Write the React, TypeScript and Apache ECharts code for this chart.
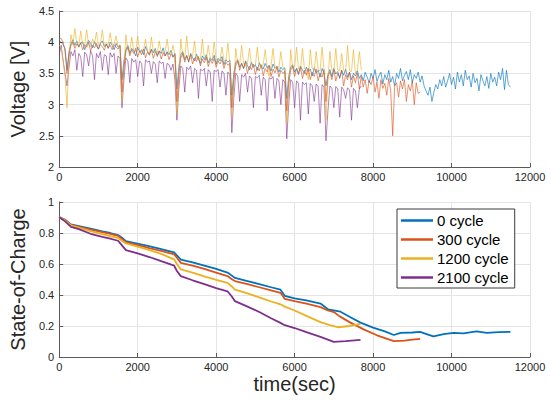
import React, { useEffect, useRef } from "react";
import * as echarts from "echarts";

// ---- data ----
const xTicks = [0, 2000, 4000, 6000, 8000, 10000, 12000];
const seriesNames = ["0 cycle", "300 cycle", "1200 cycle", "2100 cycle"];
const colors = ["#0072BD", "#D95319", "#EDB120", "#7E2F8E"];

// voltage samples every 50 s
const VSTEP = 50;
const voltage0 = [
  4.02, 4.0, 3.96, 3.9, 3.55, 3.85, 3.98, 4.04, 3.95, 4.02, 3.92, 3.99, 4.0, 3.88, 3.96, 4.03, 3.98, 3.91, 4.01, 3.94, 3.89, 3.99, 4.02, 3.93, 3.97, 3.9, 4.0, 3.95, 3.88, 3.98, 3.92, 3.95,
  3.4, 3.7, 3.88, 3.95, 3.82, 3.9, 3.86, 3.78, 3.92, 3.84, 3.88, 3.8, 3.93, 3.85, 3.79, 3.89, 3.83, 3.9, 3.77, 3.86, 3.82, 3.91, 3.78, 3.85, 3.8, 3.87, 3.76, 3.82,
  3.25, 3.6, 3.8, 3.85, 3.72, 3.79, 3.68, 3.82, 3.75, 3.7, 3.81, 3.73, 3.66, 3.78, 3.72, 3.8, 3.67, 3.75, 3.71, 3.79, 3.65, 3.74, 3.7, 3.77, 3.64, 3.72, 3.68, 3.71,
  3.15, 3.5, 3.68, 3.72, 3.6, 3.66, 3.58, 3.7, 3.62, 3.56, 3.68, 3.6, 3.64, 3.55, 3.67, 3.61, 3.57, 3.66, 3.59, 3.63, 3.54, 3.65, 3.58, 3.62, 3.52, 3.6, 3.56, 3.59,
  3.1, 3.45, 3.6, 3.64, 3.52, 3.58, 3.48, 3.62, 3.55, 3.5, 3.6, 3.53, 3.57, 3.46, 3.59, 3.51, 3.55, 3.44, 3.58, 3.5, 3.3, 3.48, 3.56, 3.45, 3.58, 3.49, 3.53, 3.42, 3.55, 3.47, 3.57, 3.44, 3.52, 3.4, 3.5, 3.46, 3.54, 3.42,
  3.48, 3.38, 3.52, 3.44, 3.35, 3.5, 3.42, 3.56, 3.37, 3.46, 3.52, 3.33, 3.48, 3.4, 3.55, 3.36, 3.45, 3.3, 3.5, 3.42, 3.58, 3.38, 3.47, 3.53, 3.4, 3.56, 3.35, 3.48, 3.42, 3.52, 3.36, 3.46,
  3.3, 3.22, 3.15, 3.28, 3.05, 3.2, 3.32, 3.25, 3.4, 3.3, 3.45, 3.28, 3.38, 3.5, 3.32, 3.44, 3.25, 3.52, 3.36, 3.48, 3.3, 3.55, 3.4, 3.46, 3.28, 3.5, 3.35, 3.42, 3.22, 3.48, 3.38, 3.3, 3.45, 3.26, 3.5, 3.36, 3.44, 3.3, 3.52, 3.4, 3.58, 3.24, 3.55, 3.32, 3.28,
];
const voltage300 = [
  4.05, 4.06, 4.0, 3.85, 3.5, 3.8, 3.95, 4.0, 3.9, 3.97, 3.93, 3.99, 3.88, 3.96, 3.92, 4.0, 3.86, 3.95, 3.91, 3.98, 3.89, 3.96, 3.93, 3.87, 3.97, 3.91, 3.95, 3.88, 3.96, 3.92, 3.89, 3.94,
  3.2, 3.6, 3.85, 3.92, 3.78, 3.88, 3.82, 3.9, 3.76, 3.86, 3.8, 3.89, 3.75, 3.84, 3.81, 3.88, 3.74, 3.85, 3.79, 3.86, 3.73, 3.83, 3.78, 3.84, 3.72, 3.81, 3.77, 3.8,
  3.05, 3.5, 3.75, 3.82, 3.68, 3.78, 3.7, 3.8, 3.65, 3.75, 3.69, 3.77, 3.62, 3.73, 3.67, 3.76, 3.61, 3.72, 3.66, 3.74, 3.6, 3.7, 3.65, 3.72, 3.58, 3.68, 3.63, 3.66,
  2.95, 3.4, 3.62, 3.7, 3.55, 3.66, 3.58, 3.68, 3.5, 3.62, 3.56, 3.65, 3.48, 3.6, 3.54, 3.64, 3.46, 3.58, 3.52, 3.62, 3.45, 3.57, 3.51, 3.6, 3.44, 3.55, 3.5, 3.53,
  2.9, 3.35, 3.55, 3.62, 3.45, 3.58, 3.5, 3.6, 3.42, 3.55, 3.47, 3.58, 3.4, 3.52, 3.45, 3.57, 3.38, 3.5, 3.44, 3.56, 3.05, 3.45, 3.52, 3.4, 3.56, 3.38, 3.5, 3.44, 3.55, 3.3, 3.48, 3.4, 3.52, 3.28, 3.46, 3.35, 3.5, 3.25,
  3.45, 3.28, 3.4, 3.18, 3.38, 3.32, 3.45, 3.2, 3.36, 3.1, 3.4, 3.26, 3.34, 3.15, 3.42, 3.22, 2.5, 3.3, 3.35, 3.12, 3.38, 3.25, 3.4, 3.05, 3.32, 3.22, 3.38, 3.0, 3.35, 3.18, 3.2,
];
const voltage1200 = [
  3.95, 3.92, 3.7, 3.45, 2.95, 3.75, 4.12, 3.96, 4.22, 3.98, 3.94, 4.18, 3.97, 3.95, 4.2, 3.96, 3.93, 4.05, 3.98, 4.16, 3.95, 3.97, 4.2, 3.94, 3.99, 3.96, 4.15, 3.95, 3.97, 4.1, 3.93, 3.96,
  3.05, 3.55, 4.12, 3.88, 3.86, 4.08, 3.87, 3.85, 4.1, 3.86, 3.84, 3.88, 4.05, 3.85, 3.83, 4.08, 3.84, 3.86, 3.82, 4.02, 3.84, 3.83, 3.85, 4.05, 3.82, 3.81, 3.95, 3.8,
  2.85, 3.45, 4.05, 3.76, 3.75, 4.1, 3.77, 3.74, 3.78, 4.02, 3.73, 3.75, 3.72, 4.05, 3.74, 3.72, 3.95, 3.73, 3.71, 4.0, 3.72, 3.7, 3.73, 3.92, 3.7, 3.71, 3.98, 3.69,
  2.8, 3.3, 3.9, 3.66, 3.64, 3.95, 3.65, 3.62, 3.66, 3.9, 3.63, 3.61, 3.64, 3.92, 3.62, 3.6, 3.63, 3.88, 3.6, 3.45, 3.62, 3.9, 3.59, 3.61, 3.58, 3.85, 3.6, 3.58,
  2.7, 3.2, 3.88, 3.58, 3.6, 3.92, 3.57, 3.55, 3.9, 3.58, 3.56, 3.4, 3.88, 3.57, 3.55, 3.85, 3.56, 3.54, 3.92, 3.55, 2.75, 3.4, 3.85, 3.55, 3.53, 3.9, 3.56, 3.54, 3.82, 3.55, 3.52, 3.95, 3.54, 3.53, 3.88, 3.5, 3.55, 3.85, 3.55,
];
const voltage2100 = [
  3.8, 3.95, 3.7, 3.5, 3.3, 3.6, 3.85, 3.78, 3.88, 3.55, 3.82, 3.76, 3.45, 3.84, 3.8, 3.62, 3.86, 3.78, 3.4, 3.82, 3.75, 3.85, 3.55, 3.8, 3.78, 3.48, 3.83, 3.76, 3.82, 3.5, 3.78, 3.74,
  2.95, 3.4, 3.75, 3.7, 3.35, 3.74, 3.68, 3.72, 3.45, 3.7, 3.66, 3.3, 3.72, 3.68, 3.7, 3.5, 3.69, 3.65, 3.35, 3.7, 3.66, 3.68, 3.42, 3.66, 3.64, 3.55, 3.65, 3.4,
  2.75, 3.25, 3.62, 3.58, 3.2, 3.6, 3.56, 3.62, 3.35, 3.58, 3.55, 3.1, 3.57, 3.54, 3.58, 3.3, 3.56, 3.52, 3.05, 3.55, 3.53, 3.56, 3.28, 3.54, 3.5, 3.15, 3.52, 3.48,
  2.55, 3.1, 3.5, 3.46, 3.05, 3.48, 3.44, 3.5, 3.2, 3.46, 3.42, 2.95, 3.45, 3.43, 3.47, 3.15, 3.44, 3.4, 2.9, 3.43, 3.41, 3.45, 3.1, 3.42, 3.38, 3.0, 3.4, 3.36,
  2.45, 3.0, 3.4, 3.36, 2.95, 3.38, 3.34, 2.75, 3.36, 3.32, 3.35, 2.85, 3.34, 3.3, 3.05, 3.33, 3.29, 2.7, 3.32, 3.28, 2.42, 2.9, 3.3, 3.26, 2.95, 3.29, 3.25, 2.8, 3.28, 3.24, 3.1, 3.27, 3.23, 2.75, 3.26, 3.22, 2.95, 3.25, 3.3,
];

// state of charge: times (s) and values
const socTime0 = [0, 150, 300, 500, 800, 1100, 1300, 1500, 1600, 1700, 1900, 2200, 2500, 2700, 2930, 3000, 3100, 3400, 3700, 4000, 4290, 4400, 4480, 4800, 5100, 5400, 5640, 5750, 6000, 6300, 6660, 6850, 7170, 7400, 7680, 8000, 8300, 8530, 8700, 9000, 9200, 9400, 9540, 9800, 10050, 10300, 10640, 10900, 11200, 11500];
const soc0 = [0.902, 0.885, 0.855, 0.845, 0.828, 0.81, 0.8, 0.787, 0.77, 0.748, 0.737, 0.72, 0.703, 0.69, 0.675, 0.655, 0.628, 0.61, 0.59, 0.568, 0.545, 0.525, 0.51, 0.49, 0.47, 0.45, 0.434, 0.395, 0.378, 0.365, 0.345, 0.308, 0.292, 0.26, 0.222, 0.19, 0.165, 0.142, 0.155, 0.158, 0.162, 0.145, 0.133, 0.148, 0.155, 0.152, 0.165, 0.155, 0.16, 0.162];
const socTime300 = [0, 150, 300, 500, 800, 1100, 1300, 1500, 1600, 1700, 2000, 2300, 2600, 2930, 3000, 3100, 3400, 3700, 4000, 4290, 4400, 4480, 4800, 5100, 5400, 5640, 5750, 6000, 6300, 6660, 6850, 7000, 7150, 7400, 7760, 8100, 8530, 8800, 9000, 9200];
const soc300 = [0.902, 0.883, 0.852, 0.84, 0.822, 0.805, 0.795, 0.782, 0.76, 0.74, 0.722, 0.703, 0.685, 0.662, 0.64, 0.607, 0.59, 0.568, 0.545, 0.522, 0.502, 0.49, 0.47, 0.45, 0.43, 0.414, 0.375, 0.36, 0.345, 0.322, 0.3, 0.29, 0.262, 0.225, 0.178, 0.14, 0.102, 0.105, 0.112, 0.117];
const socTime1200 = [0, 150, 300, 500, 800, 1100, 1300, 1500, 1600, 1700, 2000, 2300, 2600, 2930, 3000, 3100, 3400, 3700, 4000, 4290, 4400, 4480, 4800, 5100, 5400, 5640, 5750, 6000, 6300, 6660, 6900, 7100, 7400, 7680];
const soc1200 = [0.902, 0.88, 0.85, 0.835, 0.812, 0.792, 0.78, 0.768, 0.75, 0.733, 0.712, 0.69, 0.665, 0.63, 0.6, 0.565, 0.545, 0.52, 0.498, 0.478, 0.455, 0.435, 0.41, 0.385, 0.358, 0.34, 0.325, 0.3, 0.265, 0.225, 0.205, 0.192, 0.2, 0.213];
const socTime2100 = [0, 150, 300, 500, 800, 1100, 1300, 1500, 1600, 1700, 2000, 2300, 2600, 2930, 3000, 3100, 3400, 3700, 4000, 4290, 4400, 4480, 4800, 5100, 5400, 5640, 5750, 6000, 6300, 6660, 7000, 7300, 7680];
const soc2100 = [0.902, 0.875, 0.84, 0.825, 0.795, 0.775, 0.763, 0.75, 0.72, 0.69, 0.668, 0.645, 0.618, 0.59, 0.555, 0.522, 0.495, 0.47, 0.445, 0.424, 0.39, 0.36, 0.325, 0.29, 0.25, 0.22, 0.205, 0.187, 0.16, 0.13, 0.097, 0.102, 0.11];

const voltageSets = [voltage0, voltage300, voltage1200, voltage2100];
const socTimes = [socTime0, socTime300, socTime1200, socTime2100];
const socValues = [soc0, soc300, soc1200, soc2100];

const FONT = "Liberation Sans, Arial, Helvetica, sans-serif";
const AXIS_COLOR = "#5a5a5a";
const TEXT_COLOR = "#262626";
const GRID_COLOR = "#e4e4e4";

function xAxisCfg(gridIndex: number, withName: boolean) {
  return {
    type: "value" as const,
    gridIndex,
    min: xTicks[0],
    max: xTicks[xTicks.length - 1],
    interval: 2000,
    name: withName ? "time(sec)" : "",
    nameLocation: "middle" as const,
    nameGap: 17,
    nameTextStyle: { fontSize: 20, color: TEXT_COLOR, fontFamily: FONT },
    axisLine: { show: true, lineStyle: { color: AXIS_COLOR, width: 1 } },
    axisTick: { show: true, inside: true, length: 4, lineStyle: { color: AXIS_COLOR } },
    axisLabel: {
      fontSize: 11,
      color: TEXT_COLOR,
      fontFamily: FONT,
      margin: 4,
      formatter: (v: number) => String(v),
    },
    splitLine: { show: true, lineStyle: { color: GRID_COLOR, width: 1 } },
  };
}

function yAxisCfg(gridIndex: number, name: string, min: number, max: number, interval: number) {
  return {
    type: "value" as const,
    gridIndex,
    min,
    max,
    interval,
    name,
    nameLocation: "middle" as const,
    nameGap: 20,
    nameTextStyle: { fontSize: 20, color: TEXT_COLOR, fontFamily: FONT },
    axisLine: { show: true, lineStyle: { color: AXIS_COLOR, width: 1 } },
    axisTick: { show: true, inside: true, length: 4, lineStyle: { color: AXIS_COLOR } },
    axisLabel: { fontSize: 11, color: TEXT_COLOR, fontFamily: FONT, margin: 5 },
    splitLine: { show: true, lineStyle: { color: GRID_COLOR, width: 1 } },
  };
}

export default function App() {
  const ref = useRef<HTMLDivElement>(null);

  useEffect(() => {
    document.body.style.margin = "0";
    if (!ref.current) return;
    const chart = echarts.init(ref.current, null, { renderer: "svg" });

    // drawing order in the voltage panel: blue, purple, yellow, orange
    const topOrder = [0, 3, 2, 1];
    const topSeries = topOrder.map((k) => ({
      type: "line" as const,
      name: "v-" + seriesNames[k],
      xAxisIndex: 0,
      yAxisIndex: 0,
      showSymbol: false,
      symbol: "none",
      silent: true,
      lineStyle: { color: colors[k], width: 0.7, opacity: k === 3 ? 0.85 : 0.9 },
      data: voltageSets[k].map((v, i) => [i * VSTEP, v]),
    }));

    const bottomSeries = seriesNames.map((n, k) => ({
      type: "line" as const,
      name: n,
      xAxisIndex: 1,
      yAxisIndex: 1,
      showSymbol: false,
      symbol: "none",
      itemStyle: { color: colors[k] },
      lineStyle: { color: colors[k], width: 1.8 },
      data: socTimes[k].map((t, i) => [t, socValues[k][i]]),
    }));

    chart.setOption({
      animation: false,
      backgroundColor: "#ffffff",
      grid: [
        { left: 58, right: 21, top: 11, height: 156 },
        { left: 58, right: 21, top: 202, height: 155 },
      ],
      xAxis: [xAxisCfg(0, false), xAxisCfg(1, true)],
      yAxis: [
        yAxisCfg(0, "Voltage [V]", 2, 4.5, 0.5),
        yAxisCfg(1, "State-of-Charge", 0, 1, 0.2),
      ],
      legend: {
        data: seriesNames,
        orient: "vertical",
        left: 397,
        top: 209,
        icon: "rect",
        itemWidth: 32,
        itemHeight: 2.5,
        itemGap: 4,
        padding: [4, 6, 3, 4],
        backgroundColor: "#ffffff",
        borderColor: "#3a3a3a",
        borderWidth: 1,
        borderRadius: 0,
        textStyle: { fontSize: 15, color: "#000000", fontFamily: FONT, padding: [0, 0, 0, -1] },
        selectedMode: false,
      },
      series: [...topSeries, ...bottomSeries],
    });

    return () => chart.dispose();
  }, []);

  return <div ref={ref} style={{ width: 551, height: 403 }} />;
}
